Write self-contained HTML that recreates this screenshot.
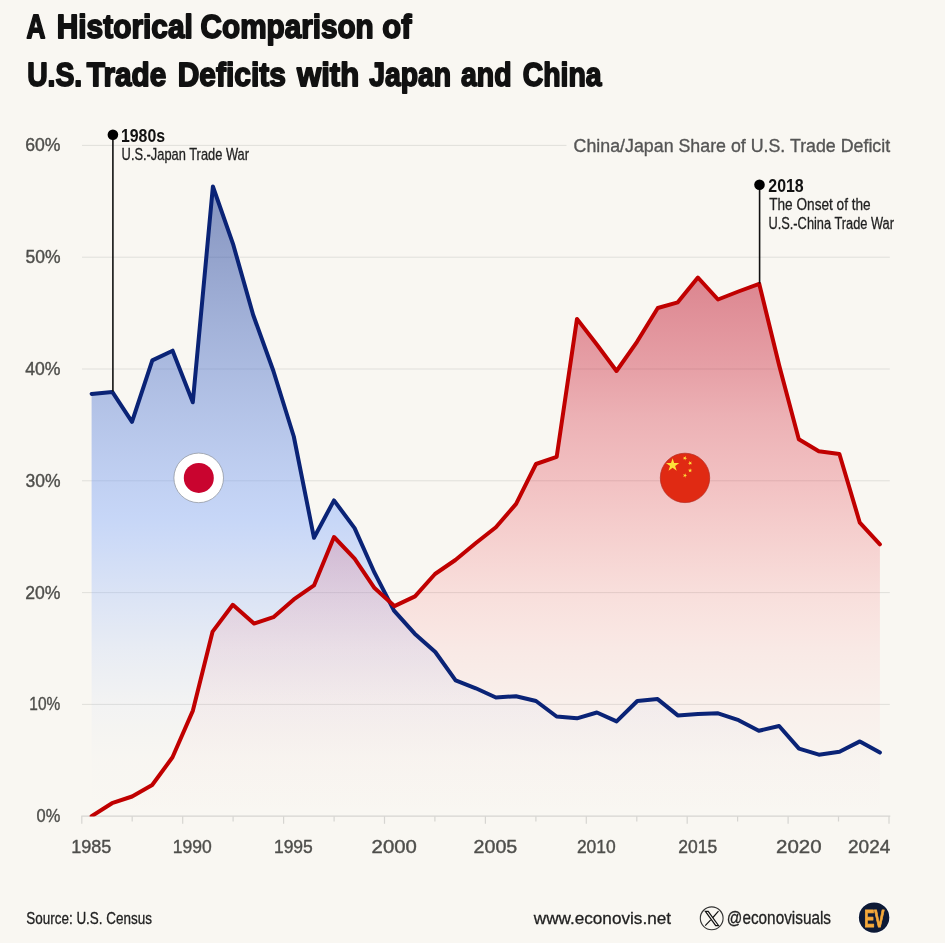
<!DOCTYPE html>
<html lang="en"><head><meta charset="utf-8"><title>A Historical Comparison of U.S. Trade Deficits with Japan and China</title>
<style>
html,body{margin:0;padding:0;background:#f9f7f2;}
body{width:945px;height:943px;overflow:hidden;font-family:"Liberation Sans",sans-serif;}
svg{display:block;}
svg text{font-family:"Liberation Sans",sans-serif;}
.grid line{stroke:#e0dfdb;stroke-width:1;}
.ax line{stroke:#d6d5d1;stroke-width:1.2;}
</style></head>
<body>
<svg width="945" height="943" viewBox="0 0 945 943">
<defs>
<linearGradient id="gj" x1="0" y1="186.5" x2="0" y2="816.2" gradientUnits="userSpaceOnUse">
<stop offset="0" stop-color="#19378f" stop-opacity="0.52"/>
<stop offset="0.53" stop-color="#82aaff" stop-opacity="0.42"/>
<stop offset="0.644" stop-color="#82aaff" stop-opacity="0.26"/>
<stop offset="0.737" stop-color="#82aaff" stop-opacity="0.14"/>
<stop offset="0.82" stop-color="#82aaff" stop-opacity="0.055"/>
<stop offset="0.91" stop-color="#82aaff" stop-opacity="0.01"/>
<stop offset="1" stop-color="#82aaff" stop-opacity="0"/>
</linearGradient>
<linearGradient id="gc" x1="0" y1="277.5" x2="0" y2="816.2" gradientUnits="userSpaceOnUse">
<stop offset="0" stop-color="#be142d" stop-opacity="0.50"/>
<stop offset="0.17" stop-color="#c8142d" stop-opacity="0.383"/>
<stop offset="0.26" stop-color="#d0182f" stop-opacity="0.313"/>
<stop offset="0.376" stop-color="#dc1e32" stop-opacity="0.25"/>
<stop offset="0.487" stop-color="#e62837" stop-opacity="0.185"/>
<stop offset="0.584" stop-color="#f0323c" stop-opacity="0.125"/>
<stop offset="0.69" stop-color="#ff3c46" stop-opacity="0.075"/>
<stop offset="0.79" stop-color="#ff3c46" stop-opacity="0.04"/>
<stop offset="0.896" stop-color="#ff3c46" stop-opacity="0.015"/>
<stop offset="1" stop-color="#ff3c46" stop-opacity="0"/>
</linearGradient>
<clipPath id="cp"><rect x="0" y="0" width="945" height="816.6"/></clipPath>
</defs>
<rect width="945" height="943" fill="#f9f7f2"/>
<g class="grid"><line x1="82" y1="704.4" x2="889.8" y2="704.4"/><line x1="82" y1="592.6" x2="889.8" y2="592.6"/><line x1="82" y1="480.8" x2="889.8" y2="480.8"/><line x1="82" y1="369.0" x2="889.8" y2="369.0"/><line x1="82" y1="257.2" x2="889.8" y2="257.2"/><line x1="82" y1="145.4" x2="566.5" y2="145.4"/></g>
<g class="ax"><line x1="81.3" y1="816.2" x2="890.3" y2="816.2"/><line x1="81.8" y1="816.2" x2="81.8" y2="823.8"/><line x1="132.2" y1="816.2" x2="132.2" y2="821.5"/><line x1="182.7" y1="816.2" x2="182.7" y2="823.8"/><line x1="233.1" y1="816.2" x2="233.1" y2="821.5"/><line x1="283.6" y1="816.2" x2="283.6" y2="823.8"/><line x1="334.1" y1="816.2" x2="334.1" y2="821.5"/><line x1="384.5" y1="816.2" x2="384.5" y2="823.8"/><line x1="434.9" y1="816.2" x2="434.9" y2="821.5"/><line x1="485.4" y1="816.2" x2="485.4" y2="823.8"/><line x1="535.9" y1="816.2" x2="535.9" y2="821.5"/><line x1="586.3" y1="816.2" x2="586.3" y2="823.8"/><line x1="636.8" y1="816.2" x2="636.8" y2="821.5"/><line x1="687.2" y1="816.2" x2="687.2" y2="823.8"/><line x1="737.6" y1="816.2" x2="737.6" y2="821.5"/><line x1="788.1" y1="816.2" x2="788.1" y2="823.8"/><line x1="838.5" y1="816.2" x2="838.5" y2="821.5"/><line x1="889.0" y1="816.2" x2="889.0" y2="823.8"/></g>
<path d="M91.6 393.9 L112.3 391.9 L132.0 421.9 L152.3 360.4 L172.6 350.7 L192.8 402.3 L212.9 186.5 L233.0 243.8 L253.2 315.0 L273.4 371.0 L293.8 436.5 L314.0 537.8 L334.0 500.4 L354.6 528.1 L374.5 572.7 L394.0 610.6 L414.7 633.7 L435.3 652.0 L455.6 680.4 L475.8 688.3 L495.9 697.5 L516.0 696.2 L536.0 701.0 L556.6 716.5 L577.0 718.3 L596.9 712.5 L616.6 721.4 L637.3 701.0 L657.6 699.1 L677.8 715.4 L698.0 714.1 L718.1 713.3 L738.6 720.2 L758.8 730.8 L779.1 726.0 L799.0 748.6 L818.9 754.7 L839.5 751.8 L859.9 741.4 L879.9 752.6 L879.9 816.2 L91.6 816.2 Z" fill="url(#gj)"/>
<path d="M91.6 816.2 L112.0 803.2 L132.1 796.5 L152.2 785.0 L172.5 757.3 L192.9 710.6 L212.6 631.6 L232.8 604.8 L254.0 623.6 L273.4 617.2 L293.8 599.4 L314.0 585.4 L334.0 537.0 L354.6 558.7 L374.5 588.1 L394.4 606.1 L415.0 596.4 L435.0 574.0 L455.4 560.0 L475.6 543.2 L495.9 527.3 L516.1 503.9 L536.0 464.0 L556.7 456.8 L577.0 318.9 L597.0 344.8 L616.5 371.0 L637.0 341.8 L657.8 308.0 L677.8 302.3 L697.9 277.5 L718.0 299.5 L738.4 291.5 L759.2 283.8 L779.2 365.4 L798.8 439.2 L818.8 451.2 L839.4 454.0 L859.8 522.7 L879.9 544.3 L879.9 816.2 L91.6 816.2 Z" fill="url(#gc)"/>
<g clip-path="url(#cp)" fill="none" stroke-linejoin="round" stroke-linecap="round" stroke-width="4">
<polyline points="91.6,393.9 112.3,391.9 132.0,421.9 152.3,360.4 172.6,350.7 192.8,402.3 212.9,186.5 233.0,243.8 253.2,315.0 273.4,371.0 293.8,436.5 314.0,537.8 334.0,500.4 354.6,528.1 374.5,572.7 394.0,610.6 414.7,633.7 435.3,652.0 455.6,680.4 475.8,688.3 495.9,697.5 516.0,696.2 536.0,701.0 556.6,716.5 577.0,718.3 596.9,712.5 616.6,721.4 637.3,701.0 657.6,699.1 677.8,715.4 698.0,714.1 718.1,713.3 738.6,720.2 758.8,730.8 779.1,726.0 799.0,748.6 818.9,754.7 839.5,751.8 859.9,741.4 879.9,752.6" stroke="#0a2376"/>
<polyline points="91.6,816.2 112.0,803.2 132.1,796.5 152.2,785.0 172.5,757.3 192.9,710.6 212.6,631.6 232.8,604.8 254.0,623.6 273.4,617.2 293.8,599.4 314.0,585.4 334.0,537.0 354.6,558.7 374.5,588.1 394.4,606.1 415.0,596.4 435.0,574.0 455.4,560.0 475.6,543.2 495.9,527.3 516.1,503.9 536.0,464.0 556.7,456.8 577.0,318.9 597.0,344.8 616.5,371.0 637.0,341.8 657.8,308.0 677.8,302.3 697.9,277.5 718.0,299.5 738.4,291.5 759.2,283.8 779.2,365.4 798.8,439.2 818.8,451.2 839.4,454.0 859.8,522.7 879.9,544.3" stroke="#c00000"/>
</g>
<!-- annotation leaders -->
<line x1="112.9" y1="134.8" x2="112.9" y2="391.5" stroke="#111" stroke-width="1.6"/>
<circle cx="112.9" cy="134.8" r="5.3" fill="#000"/>
<line x1="759.6" y1="184.8" x2="759.6" y2="283.5" stroke="#111" stroke-width="1.6"/>
<circle cx="759.5" cy="184.8" r="5.3" fill="#000"/>
<!-- flags -->
<circle cx="198.7" cy="477.9" r="24.8" fill="#fff" stroke="#8a8f98" stroke-width="0.7"/>
<circle cx="198.8" cy="477.9" r="15" fill="#c9042f"/>
<circle cx="685" cy="477.9" r="24.7" fill="#e02a13" stroke="#b5281c" stroke-width="0.7"/>
<g fill="#fde23a"><polygon points="672.60,458.20 674.17,463.04 679.26,463.04 675.14,466.03 676.71,470.86 672.60,467.87 668.49,470.86 670.06,466.03 665.94,463.04 671.03,463.04"/><polygon points="682.89,459.31 684.03,458.09 683.22,456.63 684.73,457.34 685.87,456.12 685.67,457.77 687.18,458.48 685.54,458.80 685.34,460.46 684.53,459.00"/><polygon points="687.81,463.35 689.34,462.66 689.16,461.00 690.28,462.24 691.80,461.56 690.97,463.01 692.10,464.24 690.46,463.90 689.63,465.35 689.45,463.69"/><polygon points="687.91,469.81 689.58,469.79 690.08,468.20 690.61,469.78 692.28,469.77 690.94,470.76 691.47,472.35 690.11,471.38 688.77,472.37 689.27,470.78"/><polygon points="683.15,474.01 684.69,474.65 685.78,473.37 685.65,475.04 687.19,475.68 685.57,476.07 685.44,477.74 684.56,476.31 682.94,476.70 684.02,475.43"/></g>
<!-- footer icons -->
<circle cx="711.7" cy="918.3" r="11.4" fill="none" stroke="#333" stroke-width="1.1"/>
<g fill="none" stroke="#111" stroke-linejoin="miter">
<path d="M705.4 911.4 L708.2 911.4 L718.5 925.5 L715.7 925.5 Z" stroke-width="1.25"/>
<path d="M718.5 911.2 L712.9 917.5 M710.7 919.9 L705.2 925.7" stroke-width="1.15"/>
</g>
<circle cx="874.1" cy="917.6" r="15.9" fill="#fff"/>
<circle cx="874.1" cy="917.6" r="15.2" fill="#0e1a36"/>
<!-- text -->
<g><text transform="scale(1,1.2)" x="26.50" y="31.75" font-size="28.10" font-weight="bold" fill="#111" stroke="#111" stroke-width="1.5" stroke-linejoin="round" textLength="18.90" lengthAdjust="spacingAndGlyphs">A</text><text transform="scale(1,1.2)" x="56.75" y="31.75" font-size="28.10" font-weight="bold" fill="#111" stroke="#111" stroke-width="1.5" stroke-linejoin="round" textLength="136.15" lengthAdjust="spacingAndGlyphs">Historical</text><text transform="scale(1,1.2)" x="200.60" y="31.75" font-size="28.10" font-weight="bold" fill="#111" stroke="#111" stroke-width="1.5" stroke-linejoin="round" textLength="173.10" lengthAdjust="spacingAndGlyphs">Comparison</text><text transform="scale(1,1.2)" x="382.30" y="31.75" font-size="28.10" font-weight="bold" fill="#111" stroke="#111" stroke-width="1.5" stroke-linejoin="round" textLength="29.15" lengthAdjust="spacingAndGlyphs">of</text><text transform="scale(1,1.2)" x="27.15" y="71.33" font-size="28.34" font-weight="bold" fill="#111" stroke="#111" stroke-width="1.5" stroke-linejoin="round" textLength="55.10" lengthAdjust="spacingAndGlyphs">U.S.</text><text transform="scale(1,1.2)" x="86.85" y="71.33" font-size="28.34" font-weight="bold" fill="#111" stroke="#111" stroke-width="1.5" stroke-linejoin="round" textLength="79.40" lengthAdjust="spacingAndGlyphs">Trade</text><text transform="scale(1,1.2)" x="177.75" y="71.33" font-size="28.34" font-weight="bold" fill="#111" stroke="#111" stroke-width="1.5" stroke-linejoin="round" textLength="108.10" lengthAdjust="spacingAndGlyphs">Deficits</text><text transform="scale(1,1.2)" x="297.05" y="71.33" font-size="28.34" font-weight="bold" fill="#111" stroke="#111" stroke-width="1.5" stroke-linejoin="round" textLength="62.10" lengthAdjust="spacingAndGlyphs">with</text><text transform="scale(1,1.2)" x="369.20" y="71.33" font-size="28.34" font-weight="bold" fill="#111" stroke="#111" stroke-width="1.5" stroke-linejoin="round" textLength="81.85" lengthAdjust="spacingAndGlyphs">Japan</text><text transform="scale(1,1.2)" x="461.00" y="71.33" font-size="28.34" font-weight="bold" fill="#111" stroke="#111" stroke-width="1.5" stroke-linejoin="round" textLength="50.50" lengthAdjust="spacingAndGlyphs">and</text><text transform="scale(1,1.2)" x="522.75" y="71.33" font-size="28.34" font-weight="bold" fill="#111" stroke="#111" stroke-width="1.5" stroke-linejoin="round" textLength="78.75" lengthAdjust="spacingAndGlyphs">China</text><text x="36.50" y="822.10" font-size="19.14" font-weight="normal" fill="#4e4e4b" stroke="#4e4e4b" stroke-width="0.4" stroke-linejoin="round" textLength="23.75" lengthAdjust="spacingAndGlyphs">0%</text><text x="29.35" y="710.30" font-size="19.14" font-weight="normal" fill="#4e4e4b" stroke="#4e4e4b" stroke-width="0.4" stroke-linejoin="round" textLength="30.90" lengthAdjust="spacingAndGlyphs">10%</text><text x="25.25" y="598.50" font-size="19.14" font-weight="normal" fill="#4e4e4b" stroke="#4e4e4b" stroke-width="0.4" stroke-linejoin="round" textLength="35.25" lengthAdjust="spacingAndGlyphs">20%</text><text x="25.50" y="486.70" font-size="19.14" font-weight="normal" fill="#4e4e4b" stroke="#4e4e4b" stroke-width="0.4" stroke-linejoin="round" textLength="35.00" lengthAdjust="spacingAndGlyphs">30%</text><text x="25.20" y="374.90" font-size="19.14" font-weight="normal" fill="#4e4e4b" stroke="#4e4e4b" stroke-width="0.4" stroke-linejoin="round" textLength="35.30" lengthAdjust="spacingAndGlyphs">40%</text><text x="25.50" y="263.10" font-size="19.14" font-weight="normal" fill="#4e4e4b" stroke="#4e4e4b" stroke-width="0.4" stroke-linejoin="round" textLength="35.00" lengthAdjust="spacingAndGlyphs">50%</text><text x="25.25" y="151.30" font-size="19.14" font-weight="normal" fill="#4e4e4b" stroke="#4e4e4b" stroke-width="0.4" stroke-linejoin="round" textLength="35.25" lengthAdjust="spacingAndGlyphs">60%</text><text x="71.25" y="852.70" font-size="18.71" font-weight="normal" fill="#4e4e4b" stroke="#4e4e4b" stroke-width="0.4" stroke-linejoin="round" textLength="40.10" lengthAdjust="spacingAndGlyphs">1985</text><text x="172.70" y="852.70" font-size="18.71" font-weight="normal" fill="#4e4e4b" stroke="#4e4e4b" stroke-width="0.4" stroke-linejoin="round" textLength="38.95" lengthAdjust="spacingAndGlyphs">1990</text><text x="273.90" y="852.70" font-size="18.71" font-weight="normal" fill="#4e4e4b" stroke="#4e4e4b" stroke-width="0.4" stroke-linejoin="round" textLength="38.95" lengthAdjust="spacingAndGlyphs">1995</text><text x="371.60" y="852.70" font-size="18.71" font-weight="normal" fill="#4e4e4b" stroke="#4e4e4b" stroke-width="0.4" stroke-linejoin="round" textLength="45.25" lengthAdjust="spacingAndGlyphs">2000</text><text x="473.60" y="852.70" font-size="18.71" font-weight="normal" fill="#4e4e4b" stroke="#4e4e4b" stroke-width="0.4" stroke-linejoin="round" textLength="43.70" lengthAdjust="spacingAndGlyphs">2005</text><text x="576.90" y="852.70" font-size="18.71" font-weight="normal" fill="#4e4e4b" stroke="#4e4e4b" stroke-width="0.4" stroke-linejoin="round" textLength="38.80" lengthAdjust="spacingAndGlyphs">2010</text><text x="678.35" y="852.70" font-size="18.71" font-weight="normal" fill="#4e4e4b" stroke="#4e4e4b" stroke-width="0.4" stroke-linejoin="round" textLength="38.95" lengthAdjust="spacingAndGlyphs">2015</text><text x="776.05" y="852.70" font-size="18.71" font-weight="normal" fill="#4e4e4b" stroke="#4e4e4b" stroke-width="0.4" stroke-linejoin="round" textLength="45.60" lengthAdjust="spacingAndGlyphs">2020</text><text x="848.05" y="852.70" font-size="18.71" font-weight="normal" fill="#4e4e4b" stroke="#4e4e4b" stroke-width="0.4" stroke-linejoin="round" textLength="42.20" lengthAdjust="spacingAndGlyphs">2024</text><text x="573.60" y="151.52" font-size="18.68" font-weight="normal" fill="#555" stroke="#555" stroke-width="0.35" stroke-linejoin="round" textLength="316.55" lengthAdjust="spacingAndGlyphs">China/Japan Share of U.S. Trade Deficit</text><text x="120.95" y="141.60" font-size="17.71" font-weight="bold" fill="#111" textLength="44.15" lengthAdjust="spacingAndGlyphs">1980s</text><text x="121.60" y="160.25" font-size="17.01" font-weight="normal" fill="#222" stroke="#222" stroke-width="0.3" stroke-linejoin="round" textLength="127.40" lengthAdjust="spacingAndGlyphs">U.S.-Japan Trade War</text><text x="768.30" y="191.60" font-size="17.57" font-weight="bold" fill="#111" textLength="35.40" lengthAdjust="spacingAndGlyphs">2018</text><text x="769.20" y="210.35" font-size="17.30" font-weight="normal" fill="#222" stroke="#222" stroke-width="0.3" stroke-linejoin="round" textLength="101.50" lengthAdjust="spacingAndGlyphs">The Onset of the</text><text x="768.45" y="228.55" font-size="17.30" font-weight="normal" fill="#222" stroke="#222" stroke-width="0.3" stroke-linejoin="round" textLength="125.55" lengthAdjust="spacingAndGlyphs">U.S.-China Trade War</text><text x="26.30" y="924.05" font-size="16.42" font-weight="normal" fill="#222" stroke="#222" stroke-width="0.3" stroke-linejoin="round" textLength="125.60" lengthAdjust="spacingAndGlyphs">Source: U.S. Census</text><text x="533.75" y="924.05" font-size="17.23" font-weight="normal" fill="#222" stroke="#222" stroke-width="0.3" stroke-linejoin="round" textLength="137.25" lengthAdjust="spacingAndGlyphs">www.econovis.net</text><text x="726.85" y="923.85" font-size="17.80" font-weight="normal" fill="#222" stroke="#222" stroke-width="0.3" stroke-linejoin="round" textLength="104.15" lengthAdjust="spacingAndGlyphs">@econovisuals</text><text x="864.20" y="926.85" font-size="23.69" font-weight="bold" fill="#f5a93b" stroke="#f5a93b" stroke-width="0.9" stroke-linejoin="round" textLength="20.35" lengthAdjust="spacingAndGlyphs">EV</text></g>
</svg>
</body></html>
